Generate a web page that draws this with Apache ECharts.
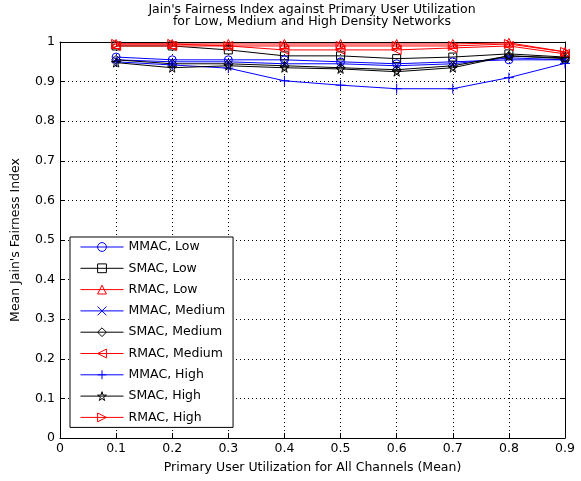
<!DOCTYPE html>
<html><head><meta charset="utf-8">
<script src="https://cdn.jsdelivr.net/npm/echarts@6/dist/echarts.min.js"></script>
<style>html,body{margin:0;padding:0;background:#fff}#c{width:581px;height:481px}</style>
</head><body><div id="c"></div>
<script>
const xValues = [0.1, 0.2, 0.3, 0.4, 0.5, 0.6, 0.7, 0.8, 0.9];
const mmacLow    = [0.962, 0.955, 0.955, 0.955, 0.950, 0.945, 0.950, 0.955, 0.955];
const smacLow    = [0.990, 0.990, 0.980, 0.965, 0.965, 0.958, 0.962, 0.970, 0.962];
const rmacLow    = [0.995, 0.995, 0.995, 0.995, 0.995, 0.995, 0.995, 0.998, 0.975];
const mmacMedium = [0.955, 0.950, 0.950, 0.945, 0.945, 0.940, 0.945, 0.960, 0.955];
const smacMedium = [0.955, 0.945, 0.945, 0.940, 0.935, 0.930, 0.940, 0.965, 0.960];
const rmacMedium = [0.990, 0.990, 0.990, 0.980, 0.980, 0.980, 0.985, 0.990, 0.970];
const mmacHigh   = [0.950, 0.942, 0.934, 0.902, 0.891, 0.882, 0.882, 0.910, 0.946];
const smacHigh   = [0.948, 0.935, 0.940, 0.935, 0.932, 0.925, 0.935, 0.965, 0.958];
const rmacHigh   = [0.995, 0.995, 0.990, 0.990, 0.990, 0.990, 0.990, 0.995, 0.975];
const xTicks = [0, 0.1, 0.2, 0.3, 0.4, 0.5, 0.6, 0.7, 0.8, 0.9];
const yTicks = [0, 0.1, 0.2, 0.3, 0.4, 0.5, 0.6, 0.7, 0.8, 0.9, 1];

const FONT = 'DejaVu Sans';
const FS = 12.5;
const CLEAR = 'rgba(255,255,255,0)';
const STAR = 'path://M50,0 L61,35 L98,35 L68,57 L79,91 L50,70 L21,91 L32,57 L2,35 L39,35 Z';
const XMARK = 'path://M0,0 L10,10 M10,0 L0,10';
const PLUS = 'path://M5,0 L5,10 M0,5 L10,5';

function mk(name, data, color, symbol, size, rot) {
  return {
    name: name, type: 'line',
    data: xValues.map((x, i) => [x, data[i]]),
    symbol: symbol, symbolSize: size, symbolRotate: rot || 0,
    showAllSymbol: true,
    lineStyle: { color: color, width: 1 },
    itemStyle: { color: CLEAR, borderColor: color, borderWidth: 1 },
    emphasis: { disabled: true },
    animation: false
  };
}

const series = [
  mk('MMAC, Low', mmacLow, '#0000ff', 'circle', 8),
  mk('SMAC, Low', smacLow, '#000000', 'rect', 8),
  mk('RMAC, Low', rmacLow, '#ff0000', 'triangle', 9),
  mk('MMAC, Medium', mmacMedium, '#0000ff', XMARK, 7),
  mk('SMAC, Medium', smacMedium, '#000000', 'diamond', 9),
  mk('RMAC, Medium', rmacMedium, '#ff0000', 'triangle', 9, 90),
  mk('MMAC, High', mmacHigh, '#0000ff', PLUS, 10),
  mk('SMAC, High', smacHigh, '#000000', STAR, 9),
  mk('RMAC, High', rmacHigh, '#ff0000', 'triangle', 9, -90)
];

const axisCommon = {
  type: 'value',
  axisLine: { show: true, onZero: false, lineStyle: { color: '#000', width: 1 } },
  axisTick: { show: true, inside: true, length: 5, lineStyle: { color: '#000' } },
  axisLabel: { color: '#000', fontFamily: FONT, fontSize: FS },
  nameTextStyle: { color: '#000', fontFamily: FONT, fontSize: FS }
};

const chart = echarts.init(document.getElementById('c'), null, { renderer: 'canvas' });
chart.setOption({
  backgroundColor: '#fff',
  animation: false,
  title: {
    text: "Jain's Fairness Index against Primary User Utilization\nfor Low, Medium and High Density Networks",
    left: 312, top: 4, padding: 0, textAlign: 'center',
    textStyle: { fontFamily: FONT, fontSize: FS, fontWeight: 'normal', color: '#000', lineHeight: 12 }
  },
  grid: { left: 60, right: 16, top: 42, bottom: 43, containLabel: false },
  legend: {
    orient: 'vertical', left: 70, top: 237,
    data: series.map(s => s.name),
    itemWidth: 43, itemHeight: 11, itemGap: 7.3,
    padding: [3, 8, 3, 10],
    backgroundColor: '#fff', borderColor: '#000', borderWidth: 1, borderRadius: 0,
    textStyle: { fontFamily: FONT, fontSize: FS, color: '#000', lineHeight: 14 },
    lineStyle: { width: 1 },
    itemStyle: { borderWidth: 1 },
    selectedMode: false
  },
  xAxis: [
    Object.assign({}, axisCommon, {
      min: 0, max: 0.9, interval: 0.1, position: 'bottom',
      name: 'Primary User Utilization for All Channels (Mean)',
      nameLocation: 'middle', nameGap: 23,
      axisLabel: Object.assign({}, axisCommon.axisLabel, { margin: 4,
        formatter: v => { const t = xTicks.find(k => Math.abs(k - v) < 1e-6); return t === undefined ? '' : String(t); } }),
      splitLine: { show: true, lineStyle: { color: '#000', type: [1, 3], width: 1 } }
    }),
    Object.assign({}, axisCommon, {
      min: 0, max: 0.9, interval: 0.1, position: 'top',
      axisLabel: { show: false }, splitLine: { show: false }
    })
  ],
  yAxis: [
    Object.assign({}, axisCommon, {
      min: 0, max: 1, interval: 0.1, position: 'left',
      name: "Mean Jain's Fairness Index",
      nameLocation: 'middle', nameGap: 38, nameRotate: 90,
      axisLabel: Object.assign({}, axisCommon.axisLabel, { margin: 5,
        formatter: v => { const t = yTicks.find(k => Math.abs(k - v) < 1e-6); return t === undefined ? '' : String(t); } }),
      splitLine: { show: true, lineStyle: { color: '#000', type: [1, 3], width: 1 } }
    }),
    Object.assign({}, axisCommon, {
      min: 0, max: 1, interval: 0.1, position: 'right',
      axisLabel: { show: false }, splitLine: { show: false }
    })
  ],
  series: series
});
</script>
</body></html>
